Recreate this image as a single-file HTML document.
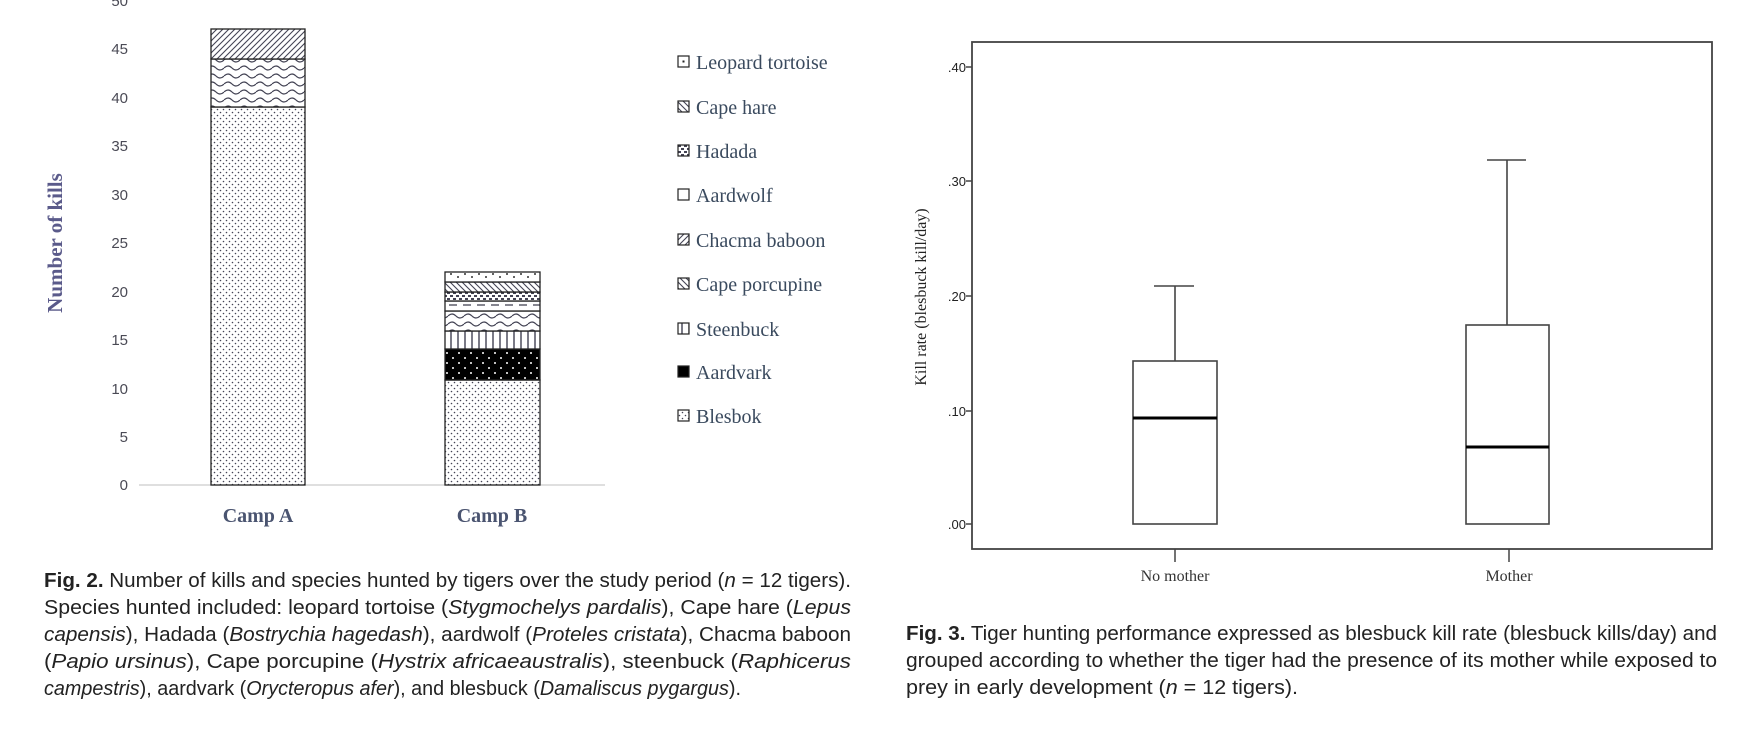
<!DOCTYPE html>
<html><head><meta charset="utf-8"><style>
html,body{margin:0;padding:0;background:#fff;}
svg{display:block;}
.cap{font-family:"Liberation Sans",sans-serif;font-size:20px;fill:#222;}
.leg{font-family:"Liberation Serif",serif;font-size:20px;fill:#3a4a5e;}
.tk{font-family:"Liberation Sans",sans-serif;font-size:15px;fill:#4a4a55;}
.tk2{font-family:"Liberation Sans",sans-serif;font-size:13px;fill:#222;}
</style></head><body>
<svg width="1740" height="734" viewBox="0 0 1740 734" xmlns="http://www.w3.org/2000/svg">
<defs>
<pattern id="dots" width="6" height="6" patternUnits="userSpaceOnUse"><rect width="6" height="6" fill="#fff"/><circle cx="1.5" cy="1.5" r="0.8" fill="#445"/><circle cx="4.5" cy="4.5" r="0.8" fill="#445"/></pattern>
<pattern id="sdots" width="14" height="10" patternUnits="userSpaceOnUse"><rect width="14" height="10" fill="#fff"/><circle cx="3" cy="4" r="1" fill="#333"/><circle cx="10" cy="7" r="1" fill="#333"/></pattern>
<pattern id="wave" width="16" height="8" patternUnits="userSpaceOnUse"><rect width="16" height="8" fill="#fff"/><path d="M0 4 Q4 0 8 4 T16 4" fill="none" stroke="#445" stroke-width="1.2"/></pattern>
<pattern id="diag" width="6" height="6" patternUnits="userSpaceOnUse"><rect width="6" height="6" fill="#fff"/><path d="M-1 7 L7 -1 M-1 1 L1 -1 M5 7 L7 5" stroke="#445" stroke-width="1.1"/></pattern>
<pattern id="bdiag" width="6" height="6" patternUnits="userSpaceOnUse"><rect width="6" height="6" fill="#fff"/><path d="M-1 -1 L7 7 M5 -1 L7 1 M-1 5 L1 7" stroke="#445" stroke-width="1.1"/></pattern>
<pattern id="vl" width="7" height="10" patternUnits="userSpaceOnUse"><rect width="7" height="10" fill="#fff"/><path d="M3 0 V10" stroke="#334" stroke-width="1.3"/></pattern>
<pattern id="blk" width="12" height="10" patternUnits="userSpaceOnUse"><rect width="12" height="10" fill="#000"/><circle cx="3" cy="3" r="1" fill="#fff"/><circle cx="9" cy="8" r="1" fill="#fff"/></pattern>
<pattern id="dash" width="14" height="10" patternUnits="userSpaceOnUse"><rect width="14" height="10" fill="#fff"/><path d="M1 5 H9" stroke="#445" stroke-width="1.3"/></pattern>
<pattern id="chk" width="6" height="6" patternUnits="userSpaceOnUse"><rect width="6" height="6" fill="#fff"/><rect x="0" y="1" width="3" height="2" fill="#445"/><rect x="3" y="4" width="3" height="2" fill="#445"/></pattern>
</defs>

<!-- left chart -->
<g class="tk" text-anchor="end">
<text x="128" y="6">50</text>
<text x="128" y="54">45</text>
<text x="128" y="103">40</text>
<text x="128" y="151">35</text>
<text x="128" y="200">30</text>
<text x="128" y="248">25</text>
<text x="128" y="297">20</text>
<text x="128" y="345">15</text>
<text x="128" y="394">10</text>
<text x="128" y="442">5</text>
<text x="128" y="490">0</text>
</g>
<text transform="translate(62,243) rotate(-90)" text-anchor="middle" font-family="Liberation Serif,serif" font-weight="bold" font-size="21" fill="#5a5a8a">Number of kills</text>
<line x1="139" y1="485" x2="605" y2="485" stroke="#ccc" stroke-width="1.2"/>
<!-- bar A -->
<g stroke="#222" stroke-width="1.3">
<rect x="211" y="107" width="94" height="378" fill="url(#dots)"/>
<rect x="211" y="59" width="94" height="48" fill="url(#wave)"/>
<rect x="211" y="29" width="94" height="30" fill="url(#diag)"/>
</g>
<!-- bar B -->
<g stroke="#222" stroke-width="1.3">
<rect x="445" y="380" width="95" height="105" fill="url(#dots)"/>
<rect x="445" y="349" width="95" height="31" fill="url(#blk)"/>
<rect x="445" y="331" width="95" height="18" fill="url(#vl)"/>
<rect x="445" y="311" width="95" height="20" fill="url(#wave)"/>
<rect x="445" y="301" width="95" height="10" fill="url(#dash)"/>
<rect x="445" y="292" width="95" height="9" fill="url(#chk)"/>
<rect x="445" y="282" width="95" height="10" fill="url(#bdiag)"/>
<rect x="445" y="272" width="95" height="10" fill="url(#sdots)"/>
</g>
<g font-family="Liberation Serif,serif" font-weight="bold" font-size="20" fill="#4a5470" text-anchor="middle">
<text x="258" y="522">Camp A</text>
<text x="492" y="522">Camp B</text>
</g>
<!-- legend -->
<g stroke="#222" stroke-width="1.2">
<rect x="678" y="56" width="11" height="11" fill="#fff"/><rect x="682.5" y="60.5" width="2" height="2" fill="#222" stroke="none"/>
<rect x="678" y="101" width="11" height="11" fill="url(#bdiag)"/>
<rect x="678" y="145" width="11" height="11" fill="url(#chk)"/>
<rect x="678" y="189" width="11" height="11" fill="#fff"/>
<rect x="678" y="234" width="11" height="11" fill="url(#diag)"/>
<rect x="678" y="278" width="11" height="11" fill="url(#bdiag)"/>
<rect x="678" y="323" width="11" height="11" fill="url(#vl)"/>
<rect x="678" y="366" width="11" height="11" fill="#000"/>
<rect x="678" y="410" width="11" height="11" fill="url(#dots)"/>
</g>
<g class="leg">
<text x="696" y="69">Leopard tortoise</text>
<text x="696" y="114">Cape hare</text>
<text x="696" y="158">Hadada</text>
<text x="696" y="202">Aardwolf</text>
<text x="696" y="247">Chacma baboon</text>
<text x="696" y="291">Cape porcupine</text>
<text x="696" y="336">Steenbuck</text>
<text x="696" y="379">Aardvark</text>
<text x="696" y="423">Blesbok</text>
</g>

<!-- right chart -->
<rect x="972" y="42" width="740" height="507" fill="none" stroke="#444" stroke-width="1.8"/>
<g stroke="#444" stroke-width="1.5">
<line x1="966" y1="67" x2="972" y2="67"/><line x1="966" y1="181" x2="972" y2="181"/><line x1="966" y1="296" x2="972" y2="296"/><line x1="966" y1="411" x2="972" y2="411"/><line x1="966" y1="524" x2="972" y2="524"/>
<line x1="1175" y1="549" x2="1175" y2="562"/><line x1="1509" y1="549" x2="1509" y2="562"/>
</g>
<g class="tk2" text-anchor="end">
<text x="966" y="72">.40</text><text x="966" y="186">.30</text><text x="966" y="301">.20</text><text x="966" y="416">.10</text><text x="966" y="529">.00</text>
</g>
<text transform="translate(926,297) rotate(-90)" text-anchor="middle" font-family="Liberation Serif,serif" font-size="16" fill="#222">Kill rate (blesbuck kill/day)</text>
<g stroke="#444" stroke-width="1.6" fill="#fff">
<line x1="1175" y1="286" x2="1175" y2="361"/><line x1="1154" y1="286" x2="1194" y2="286"/>
<rect x="1133" y="361" width="84" height="163"/>
<line x1="1507" y1="160" x2="1507" y2="325"/><line x1="1487" y1="160" x2="1526" y2="160"/>
<rect x="1466" y="325" width="83" height="199"/>
</g>
<line x1="1133" y1="418" x2="1217" y2="418" stroke="#000" stroke-width="3"/>
<line x1="1466" y1="447" x2="1549" y2="447" stroke="#000" stroke-width="3"/>
<g font-family="Liberation Serif,serif" font-size="16" fill="#333" text-anchor="middle">
<text x="1175" y="581">No mother</text><text x="1509" y="581">Mother</text>
</g>

<!-- captions -->
<g class="cap">
<text x="44" y="587" textLength="807" lengthAdjust="spacingAndGlyphs"><tspan font-weight="bold">Fig. 2.</tspan> Number of kills and species hunted by tigers over the study period (<tspan font-style="italic">n</tspan> = 12 tigers).</text>
<text x="44" y="614" textLength="807" lengthAdjust="spacingAndGlyphs">Species hunted included: leopard tortoise (<tspan font-style="italic">Stygmochelys pardalis</tspan>), Cape hare (<tspan font-style="italic">Lepus</tspan></text>
<text x="44" y="641" textLength="807" lengthAdjust="spacingAndGlyphs"><tspan font-style="italic">capensis</tspan>), Hadada (<tspan font-style="italic">Bostrychia hagedash</tspan>), aardwolf (<tspan font-style="italic">Proteles cristata</tspan>), Chacma baboon</text>
<text x="44" y="668" textLength="807" lengthAdjust="spacingAndGlyphs">(<tspan font-style="italic">Papio ursinus</tspan>), Cape porcupine (<tspan font-style="italic">Hystrix africaeaustralis</tspan>), steenbuck (<tspan font-style="italic">Raphicerus</tspan></text>
<text x="44" y="695" textLength="697" lengthAdjust="spacingAndGlyphs"><tspan font-style="italic">campestris</tspan>), aardvark (<tspan font-style="italic">Orycteropus afer</tspan>), and blesbuck (<tspan font-style="italic">Damaliscus pygargus</tspan>).</text>

<text x="906" y="640" textLength="811" lengthAdjust="spacingAndGlyphs"><tspan font-weight="bold">Fig. 3.</tspan> Tiger hunting performance expressed as blesbuck kill rate (blesbuck kills/day) and</text>
<text x="906" y="667" textLength="811" lengthAdjust="spacingAndGlyphs">grouped according to whether the tiger had the presence of its mother while exposed to</text>
<text x="906" y="694" textLength="392" lengthAdjust="spacingAndGlyphs">prey in early development (<tspan font-style="italic">n</tspan> = 12 tigers).</text>
</g>
</svg>
</body></html>
